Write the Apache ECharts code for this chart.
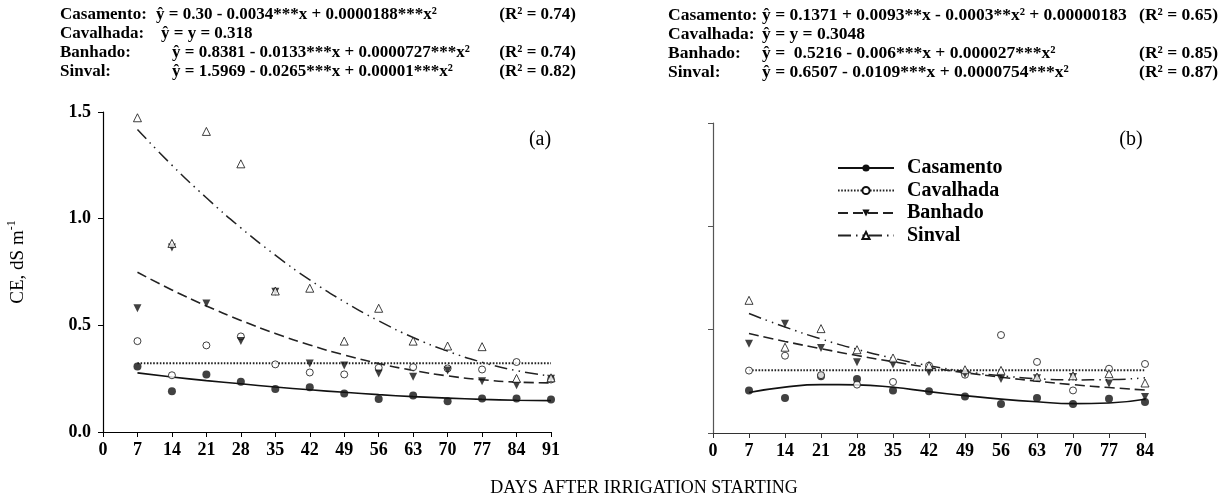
<!DOCTYPE html>
<html><head><meta charset="utf-8">
<script src="https://cdn.jsdelivr.net/npm/echarts@6/dist/echarts.min.js"></script>
<style>html,body{margin:0;padding:0;background:#fff}#c{width:1229px;height:499px}</style>
</head><body><div id="c"></div>
<script>
// ---------- data ----------
const daysA = [7,14,21,28,35,42,49,56,63,70,77,84,91];
const daysB = [7,14,21,28,35,42,49,56,63,70,77,84];
const xTicksA = [0,7,14,21,28,35,42,49,56,63,70,77,84,91];
const xTicksB = [0,7,14,21,28,35,42,49,56,63,70,77,84];
const yTicks = [0.0,0.5,1.0,1.5];
const seriesNames = ['Casamento','Cavalhada','Banhado','Sinval'];

// panel (a) observed
const casamentoA = [0.307,0.191,0.270,0.235,0.202,0.210,0.180,0.155,0.171,0.144,0.157,0.157,0.152];
const cavalhadaA = [0.426,0.266,0.406,0.448,0.317,0.279,0.270,0.301,0.304,0.298,0.293,0.328,0.246];
const banhadoA   = [0.580,0.865,0.602,0.426,0.658,0.321,0.312,0.274,0.259,0.288,0.238,0.219,0.250];
const sinvalA    = [1.473,0.884,1.409,1.257,0.661,0.674,0.426,0.580,0.426,0.403,0.400,0.251,0.254];
// panel (a) fitted curves
const casamentoFitA = [0.277,0.258,0.241,0.226,0.211,0.198,0.186,0.175,0.166,0.159,0.153,0.149,0.147];
const cavalhadaFitA = [0.322,0.322,0.322,0.322,0.322,0.322,0.322,0.322,0.322,0.322,0.322,0.322,0.322];
const banhadoFitA   = [0.749,0.666,0.591,0.523,0.462,0.408,0.361,0.321,0.289,0.263,0.245,0.234,0.230];
const sinvalFitA    = [1.418,1.251,1.098,0.957,0.829,0.713,0.611,0.521,0.443,0.379,0.327,0.288,0.262];

// panel (b) observed
const casamentoB = [0.206,0.169,0.275,0.261,0.206,0.202,0.177,0.140,0.169,0.140,0.166,0.150];
const cavalhadaB = [0.302,0.374,0.280,0.234,0.247,0.326,0.282,0.474,0.344,0.206,0.311,0.334];
const banhadoB   = [0.432,0.529,0.411,0.342,0.331,0.294,0.285,0.261,0.265,0.271,0.239,0.174];
const sinvalB    = [0.642,0.415,0.505,0.403,0.363,0.326,0.306,0.303,0.271,0.277,0.287,0.242];
// panel (b) fitted curves
const casamentoFitB = [0.196,0.222,0.234,0.233,0.221,0.200,0.181,0.164,0.151,0.142,0.145,0.163];
const cavalhadaFitB = [0.304,0.304,0.304,0.304,0.304,0.304,0.304,0.304,0.304,0.304,0.304,0.304];
const banhadoFitB   = [0.481,0.443,0.408,0.375,0.345,0.317,0.292,0.270,0.251,0.234,0.220,0.208];
const sinvalFitB    = [0.578,0.513,0.455,0.405,0.362,0.326,0.298,0.277,0.263,0.257,0.258,0.267];

// equation texts
const eqLabels = ['Casamento:','Cavalhada:','Banhado:','Sinval:'];
const eqA = ['ŷ = 0.30 - 0.0034***x + 0.0000188***x²','ŷ = y = 0.318','ŷ = 0.8381 - 0.0133***x + 0.0000727***x²','ŷ = 1.5969 - 0.0265***x + 0.00001***x²'];
const r2A = ['(R² = 0.74)','','(R² = 0.74)','(R² = 0.82)'];
const eqB = ['ŷ = 0.1371 + 0.0093**x - 0.0003**x² + 0.00000183','ŷ = y = 0.3048','ŷ =  0.5216 - 0.006***x + 0.000027***x²','ŷ = 0.6507 - 0.0109***x + 0.0000754***x²'];
const r2B = ['(R² = 0.65)','','(R² = 0.85)','(R² = 0.87)'];
const yAxisTitle = 'CE, dS m';
const xAxisTitle = 'DAYS AFTER IRRIGATION STARTING';
const panelTags = ['(a)','(b)'];

// ---------- styles ----------
const SERIF = "'Liberation Serif','Times New Roman',serif";
const styles = {
  Casamento: {symbol:'circle', rotate:0, size:8, fill:'#111', line:{color:'#111', width:1.6, type:'solid'}},
  Cavalhada: {symbol:'circle', rotate:0, size:7, fill:'#fff', line:{color:'#222', width:2, type:[1.6,1.6]}},
  Banhado:   {symbol:'triangle', rotate:180, size:8, fill:'#111', line:{color:'#222', width:1.6, type:[10,5]}},
  Sinval:    {symbol:'triangle', rotate:0, size:8, fill:'#fff', line:{color:'#222', width:1.5, type:[13,5,1.5,5,1.5,5]}}
};
const obsA = {Casamento:casamentoA, Cavalhada:cavalhadaA, Banhado:banhadoA, Sinval:sinvalA};
const fitA = {Casamento:casamentoFitA, Cavalhada:cavalhadaFitA, Banhado:banhadoFitA, Sinval:sinvalFitA};
const obsB = {Casamento:casamentoB, Cavalhada:cavalhadaB, Banhado:banhadoB, Sinval:sinvalB};
const fitB = {Casamento:casamentoFitB, Cavalhada:cavalhadaFitB, Banhado:banhadoFitB, Sinval:sinvalFitB};

function pairs(days, vals){ return days.map((d,i)=>[d, vals[i]]); }
function itemStyleOf(s){ return {color:s.fill, borderColor:'#111', borderWidth: s.fill==='#fff' ? 1 : 0}; }

const series = [];
function addPanel(idx, days, fit, obs){
  seriesNames.forEach(n=>{
    const s = styles[n];
    series.push({
      type:'line', name:n, xAxisIndex:idx, yAxisIndex:idx,
      data: pairs(days, fit[n]), smooth:0.5, showSymbol:false,
      symbol:s.symbol, symbolRotate:s.rotate, symbolSize:s.size,
      itemStyle:itemStyleOf(s), lineStyle:s.line, z:2, silent:true
    });
  });
  seriesNames.forEach(n=>{
    const s = styles[n];
    series.push({
      type:'scatter', name:n, xAxisIndex:idx, yAxisIndex:idx,
      data: pairs(days, obs[n]), symbol:s.symbol, symbolRotate:s.rotate, symbolSize:s.size,
      itemStyle:itemStyleOf(s), z:3, silent:true
    });
  });
}
addPanel(0, daysA, fitA, obsA);
addPanel(1, daysB, fitB, obsB);

function xAxisCfg(idx, ticks, color){
  return {
    type:'value', gridIndex:idx, min:ticks[0], max:ticks[ticks.length-1], interval:7,
    axisLine:{onZero:false, lineStyle:{color:color, width:1.2}},
    axisTick:{length:5, lineStyle:{color:color}},
    axisLabel:{fontFamily:SERIF, fontWeight:'bold', fontSize:18, color:'#000', margin:9},
    splitLine:{show:false}
  };
}
function yAxisCfg(idx, showLabel, color){
  return {
    type:'value', gridIndex:idx, min:yTicks[0], max:yTicks[yTicks.length-1], interval:0.5,
    axisLine:{show:true, lineStyle:{color:color, width:1.2}},
    axisTick:{show:true, length:5, lineStyle:{color:color}},
    axisLabel:{show:showLabel, fontFamily:SERIF, fontWeight:'bold', fontSize:18, color:'#000', margin:12,
      formatter:v=>v.toFixed(1)},
    splitLine:{show:false}
  };
}

const graphic = [];
const rowsY = [15,34,53,72];
const eqStyleA = {font:"bold 17px "+SERIF, fill:'#000'};
const eqStyleB = {font:"bold 17.5px "+SERIF, fill:'#000'};
const eqXA = [156,161,172,172];
eqLabels.forEach((lab,i)=>{
  graphic.push({type:'text', x:60, y:rowsY[i], style:Object.assign({text:lab, verticalAlign:'middle', align:'left'}, eqStyleA)});
  graphic.push({type:'text', x:eqXA[i], y:rowsY[i], style:Object.assign({text:eqA[i], verticalAlign:'middle', align:'left'}, eqStyleA)});
  if(r2A[i]) graphic.push({type:'text', x:576, y:rowsY[i], style:Object.assign({text:r2A[i], verticalAlign:'middle', align:'right'}, eqStyleA)});
  graphic.push({type:'text', x:668, y:rowsY[i], style:Object.assign({text:lab, verticalAlign:'middle', align:'left'}, eqStyleB)});
  graphic.push({type:'text', x:762, y:rowsY[i], style:Object.assign({text:eqB[i], verticalAlign:'middle', align:'left'}, eqStyleB)});
  if(r2B[i]) graphic.push({type:'text', x:1218, y:rowsY[i], style:Object.assign({text:r2B[i], verticalAlign:'middle', align:'right'}, eqStyleB)});
});
graphic.push({type:'text', x:540, y:140, style:{text:panelTags[0], font:"20px "+SERIF, fill:'#000', align:'center', verticalAlign:'middle'}});
graphic.push({type:'text', x:1131, y:140, style:{text:panelTags[1], font:"20px "+SERIF, fill:'#000', align:'center', verticalAlign:'middle'}});
graphic.push({type:'text', x:644, y:488, style:{text:xAxisTitle, font:"18px "+SERIF, fill:'#000', align:'center', verticalAlign:'middle'}});
graphic.push({type:'text', x:17, y:262, rotation:Math.PI/2,
  style:{text:'{m|'+yAxisTitle+'}{s|-1}', align:'center', verticalAlign:'middle',
    rich:{m:{fontFamily:SERIF, fontSize:19, fill:'#000', color:'#000', lineHeight:22, verticalAlign:'bottom'},
          s:{fontFamily:SERIF, fontSize:12, fill:'#000', color:'#000', lineHeight:22, verticalAlign:'top'}}}});

const option = {
  animation:false,
  backgroundColor:'#fff',
  grid:[
    {left:103, top:112, width:448, height:320},
    {left:713, top:123, width:432, height:310}
  ],
  xAxis:[xAxisCfg(0, xTicksA, '#000'), xAxisCfg(1, xTicksB, '#333')],
  yAxis:[yAxisCfg(0, true, '#000'), yAxisCfg(1, false, '#555')],
  legend:{
    data:seriesNames, orient:'vertical', left:832, top:153,
    itemWidth:56, itemHeight:9, itemGap:2.5,
    textStyle:{fontFamily:SERIF, fontWeight:'bold', fontSize:20, color:'#000', lineHeight:20, padding:[0,0,0,8]},
    selectedMode:false
  },
  graphic:graphic,
  series:series
};
const chart = echarts.init(document.getElementById('c'), null, {renderer:'canvas'});
chart.setOption(option);
</script>
</body></html>
